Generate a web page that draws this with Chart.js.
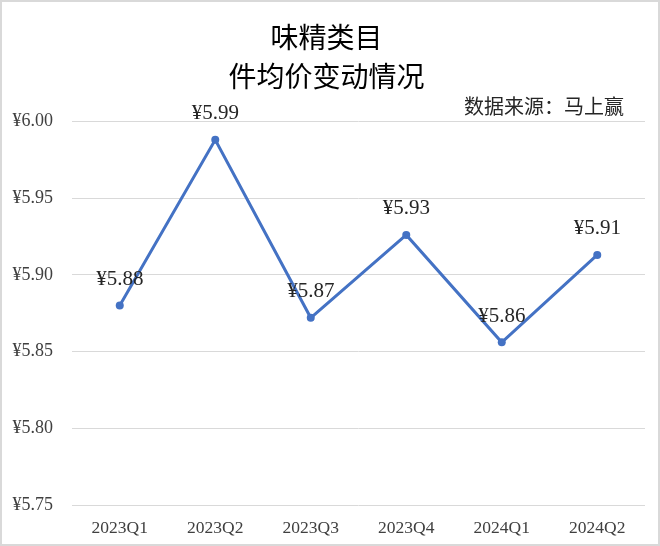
<!DOCTYPE html>
<html>
<head>
<meta charset="utf-8">
<script src="https://cdn.jsdelivr.net/npm/chart.js@4"></script>
<style>
  html, body { margin: 0; padding: 0; background: #fff; }
  #wrap { width: 660px; height: 546px; box-sizing: border-box; border: 2px solid #d9d9d9; position: relative; }
</style>
</head>
<body>
<div id="wrap"><canvas id="priceChart"></canvas></div>
<script>
// 味精类目 件均价变动情况
const quarters = ["2023Q1", "2023Q2", "2023Q3", "2023Q4", "2024Q1", "2024Q2"];
const avgPrice = [5.880, 5.988, 5.872, 5.926, 5.856, 5.913];
const titleLines = ["味精类目", "件均价变动情况"];
const sourceText = "数据来源：马上赢";

const serif = "'Liberation Serif', 'Noto Sans CJK SC', serif";

// value labels above each point + source note
const labelPlugin = {
    id: 'valueLabels',
    afterDatasetsDraw(chart) {
        const ctx = chart.ctx;
        const meta = chart.getDatasetMeta(0);
        ctx.save();
        ctx.font = "21px " + serif;
        ctx.fillStyle = '#262626';
        ctx.textAlign = 'center';
        ctx.textBaseline = 'middle';
        meta.data.forEach((pt, i) => {
            ctx.fillText('¥' + avgPrice[i].toFixed(2), pt.x, pt.y - 26);
        });
        ctx.font = "20px 'Noto Sans CJK SC', serif";
        ctx.textAlign = 'right';
        ctx.fillText(sourceText, chart.chartArea.right - 21, chart.chartArea.top - 15);
        ctx.restore();
    }
};

const ctx = document.getElementById('priceChart');
new Chart(ctx, {
    type: 'line',
    data: {
        labels: quarters,
        datasets: [{
            data: avgPrice,
            borderColor: '#4472C4',
            backgroundColor: '#4472C4',
            borderWidth: 3,
            pointRadius: 4,
            pointBackgroundColor: '#4472C4',
            pointBorderWidth: 0,
            tension: 0
        }]
    },
    options: {
        responsive: true,
        maintainAspectRatio: false,
        animation: { duration: 0 },
        layout: { padding: { left: 6, right: 13, bottom: 7 } },
        plugins: {
            legend: { display: false },
            tooltip: { enabled: false },
            title: {
                display: true,
                text: titleLines,
                color: '#000',
                font: { family: "'Noto Sans CJK SC', serif", size: 28, weight: 'normal', lineHeight: 1.4 },
                padding: { top: 16, bottom: 25 }
            }
        },
        scales: {
            x: {
                offset: true,
                grid: { display: false },
                border: { display: false },
                ticks: { color: '#404040', font: { family: serif, size: 17.5 }, padding: 5 },
                afterFit(scale) { scale.height = 32; }
            },
            y: {
                min: 5.75,
                max: 6.00,
                grid: { color: '#d9d9d9', lineWidth: 1, drawTicks: false },
                border: { display: false },
                ticks: {
                    stepSize: 0.05,
                    color: '#404040',
                    font: { family: serif, size: 18 },
                    padding: 19,
                    callback: v => '¥' + v.toFixed(2)
                },
                afterFit(scale) { scale.width = 64; }
            }
        }
    },
    plugins: [labelPlugin]
});
</script>
</body>
</html>
